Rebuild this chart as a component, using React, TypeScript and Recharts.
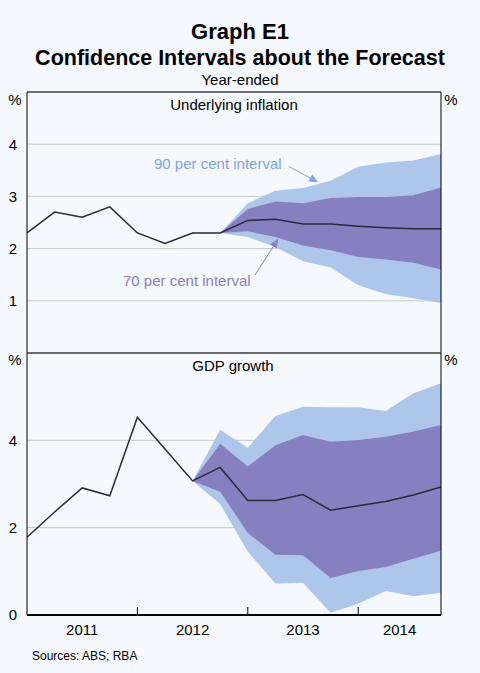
import React from 'react';
import { ComposedChart, Area, Line, XAxis, YAxis, CartesianGrid, ReferenceLine } from 'recharts';

// quarters, index 0 = Dec 2010 ... index 15 = Sep 2014
const QUARTERS = [0, 1, 2, 3, 4, 5, 6, 7, 8, 9, 10, 11, 12, 13, 14, 15];

const INFLATION = [2.3, 2.7, 2.6, 2.8, 2.3, 2.1, 2.3, 2.3, 2.54, 2.56, 2.47, 2.47, 2.43, 2.4, 2.38, 2.38];
const INFL_LO90 = [null, null, null, null, null, null, null, 2.3, 2.22, 2.03, 1.76, 1.64, 1.3, 1.13, 1.05, 0.96];
const INFL_HI90 = [null, null, null, null, null, null, null, 2.3, 2.87, 3.11, 3.16, 3.3, 3.57, 3.65, 3.69, 3.81];
const INFL_LO70 = [null, null, null, null, null, null, null, 2.3, 2.33, 2.22, 2.06, 1.97, 1.84, 1.79, 1.73, 1.6];
const INFL_HI70 = [null, null, null, null, null, null, null, 2.3, 2.76, 2.9, 2.87, 2.97, 2.99, 2.99, 3.02, 3.17];

const GDP = [1.78, 2.36, 2.91, 2.73, 4.53, 3.8, 3.07, 3.38, 2.62, 2.62, 2.76, 2.4, 2.5, 2.6, 2.75, 2.93];
const GDP_LO90 = [null, null, null, null, null, null, 3.07, 2.54, 1.45, 0.72, 0.74, 0.05, 0.26, 0.55, 0.43, 0.51];
const GDP_HI90 = [null, null, null, null, null, null, 3.07, 4.24, 3.83, 4.56, 4.77, 4.76, 4.76, 4.67, 5.08, 5.31];
const GDP_LO70 = [null, null, null, null, null, null, 3.07, 2.82, 1.88, 1.38, 1.37, 0.85, 1.01, 1.1, 1.29, 1.47];
const GDP_HI70 = [null, null, null, null, null, null, 3.07, 3.92, 3.4, 3.89, 4.12, 3.97, 4.01, 4.08, 4.2, 4.35];

const YEAR_BREAKS = [4, 8, 12];
const YEAR_MIDS = [2, 6, 10, 13.5];
const YEARS = ['2011', '2012', '2013', '2014'];

const INFL_TICKS = [1, 2, 3, 4];
const GDP_TICKS = [0, 2, 4];

const BG = '#f5f8fc';
const BLUE = '#aec6ea';
const PURPLE = '#8780c0';
const LINE = '#2b2a3a';
const FONT = '"Liberation Sans", Arial, sans-serif';

const inflData = QUARTERS.map((q, i) => ({
  q,
  value: INFLATION[i],
  b90: INFL_LO90[i] == null ? null : [INFL_LO90[i], INFL_HI90[i]],
  b70: INFL_LO70[i] == null ? null : [INFL_LO70[i], INFL_HI70[i]],
}));

const gdpData = QUARTERS.map((q, i) => ({
  q,
  value: GDP[i],
  b90: GDP_LO90[i] == null ? null : [GDP_LO90[i], GDP_HI90[i]],
  b70: GDP_LO70[i] == null ? null : [GDP_LO70[i], GDP_HI70[i]],
}));

const xTicks = [...YEAR_MIDS, ...YEAR_BREAKS].sort((a, b) => a - b);

const tickStyle = { fill: '#000', fontSize: 15, fontFamily: FONT };

const arrowShape = (color: string) => (props: any) => {
  const { x1, y1, x2, y2 } = props;
  const ang = Math.atan2(y2 - y1, x2 - x1);
  const len = 9;
  const w = 4;
  const bx = x2 - len * Math.cos(ang);
  const by = y2 - len * Math.sin(ang);
  const px = -Math.sin(ang) * w;
  const py = Math.cos(ang) * w;
  return (
    <g>
      <line x1={x1} y1={y1} x2={bx} y2={by} stroke={color} strokeWidth={1} />
      <polygon points={`${x2},${y2} ${bx + px},${by + py} ${bx - px},${by - py}`} fill={color} />
    </g>
  );
};

const YearTick = (props: any) => {
  const { x, y, payload } = props;
  const v = payload.value;
  if (YEAR_BREAKS.includes(v)) {
    return <line x1={x} x2={x} y1={y} y2={y - 8} stroke="#000" strokeWidth={1} />;
  }
  const label = YEARS[YEAR_MIDS.indexOf(v)];
  return (
    <text x={x} y={y + 20} textAnchor="middle" fill="#000" fontSize={15} fontFamily={FONT}>
      {label}
    </text>
  );
};

const Label = ({ top, left, size, children, color = '#000', bold = false, center = false }: any) => (
  <div
    style={{
      position: 'absolute',
      top,
      left: center ? 0 : left,
      width: center ? 480 : undefined,
      textAlign: center ? 'center' : 'left',
      fontSize: size,
      lineHeight: 1,
      fontWeight: bold ? 'bold' : 'normal',
      color,
      whiteSpace: 'nowrap',
    }}
  >
    {children}
  </div>
);

const PctLabel = ({ top, cx }: any) => (
  <div style={{ position: 'absolute', top, left: cx - 20, width: 40, textAlign: 'center', fontSize: 15, lineHeight: 1 }}>%</div>
);

export default function App() {
  return (
    <div style={{ position: 'absolute', left: 0, top: 0, width: 480, height: 673, background: BG, fontFamily: FONT, overflow: 'hidden' }}>
      <Label top={21} size={22} bold center>Graph E1</Label>
      <Label top={48} size={21.5} bold center>Confidence Intervals about the Forecast</Label>
      <Label top={72} size={15} center>Year-ended</Label>

      <div style={{ position: 'absolute', left: 0, top: 0 }}>
        <ComposedChart width={480} height={354} data={inflData} margin={{ top: 92, right: 0, bottom: 1, left: 0 }}>
          <CartesianGrid yAxisId="left" vertical={false} stroke="#c8c8c8" />
          <XAxis dataKey="q" type="number" domain={[0, 15]} hide />
          <YAxis yAxisId="left" type="number" domain={[0, 5]} ticks={INFL_TICKS} width={27}
            axisLine={{ stroke: '#000' }} tickLine={false} tickMargin={4} tick={tickStyle} />
          <YAxis yAxisId="right" orientation="right" type="number" domain={[0, 5]} ticks={INFL_TICKS} width={39}
            axisLine={{ stroke: '#000' }} tickLine={false} tickMargin={5} tick={tickStyle} />
          <Area yAxisId="left" dataKey="b90" type="linear" stroke="none" fill={BLUE} fillOpacity={1} isAnimationActive={false} />
          <Area yAxisId="left" dataKey="b70" type="linear" stroke="none" fill={PURPLE} fillOpacity={1} isAnimationActive={false} />
          <Line yAxisId="left" dataKey="value" type="linear" stroke={LINE} strokeWidth={1.5} dot={false} isAnimationActive={false} />
          <ReferenceLine yAxisId="left" y={5} stroke="#000" ifOverflow="visible" />
          <ReferenceLine yAxisId="left" segment={[{ x: 9.5, y: 3.57 }, { x: 10.55, y: 3.27 }]} shape={arrowShape('#7ea6dc')} ifOverflow="visible" />
          <ReferenceLine yAxisId="left" segment={[{ x: 8.26, y: 1.49 }, { x: 9.1, y: 2.19 }]} shape={arrowShape('#8a80c6')} ifOverflow="visible" />
        </ComposedChart>
      </div>

      <div style={{ position: 'absolute', left: 0, top: 343 }}>
        <ComposedChart width={480} height={330} data={gdpData} margin={{ top: 10, right: 0, bottom: 28, left: 0 }}>
          <CartesianGrid yAxisId="left" vertical={false} stroke="#c8c8c8" />
          <XAxis dataKey="q" type="number" domain={[0, 15]} ticks={xTicks}
            interval={0} height={30} axisLine={{ stroke: '#000', strokeWidth: 2 }} tickLine={false}
            tickSize={0} tickMargin={0} tick={<YearTick />} />
          <YAxis yAxisId="left" type="number" domain={[0, 6]} ticks={GDP_TICKS} width={27}
            axisLine={{ stroke: '#000' }} tickLine={false} tickMargin={4} tick={tickStyle} />
          <YAxis yAxisId="right" orientation="right" type="number" domain={[0, 6]} ticks={GDP_TICKS} width={39}
            axisLine={{ stroke: '#000' }} tickLine={false} tickMargin={5} tick={tickStyle} />
          <Area yAxisId="left" dataKey="b90" type="linear" stroke="none" fill={BLUE} fillOpacity={1} isAnimationActive={false} />
          <Area yAxisId="left" dataKey="b70" type="linear" stroke="none" fill={PURPLE} fillOpacity={1} isAnimationActive={false} />
          <Line yAxisId="left" dataKey="value" type="linear" stroke={LINE} strokeWidth={1.5} dot={false} isAnimationActive={false} />
          <ReferenceLine yAxisId="left" y={6} stroke="#000" ifOverflow="visible" />
        </ComposedChart>
      </div>

      <PctLabel top={92} cx={15} />
      <PctLabel top={92} cx={451} />
      <PctLabel top={352} cx={15} />
      <PctLabel top={352} cx={451} />

      <Label top={97} size={15} center>
        <span style={{ position: 'relative', left: -6 }}>Underlying inflation</span>
      </Label>
      <Label top={358} size={15} center>
        <span style={{ position: 'relative', left: -7 }}>GDP growth</span>
      </Label>
      <Label top={156} left={154} size={15} color="#7ea6dc">90 per cent interval</Label>
      <Label top={273} left={123} size={15} color="#8a80c6">70 per cent interval</Label>
      <Label top={650} left={32} size={12}>Sources: ABS; RBA</Label>
    </div>
  );
}
